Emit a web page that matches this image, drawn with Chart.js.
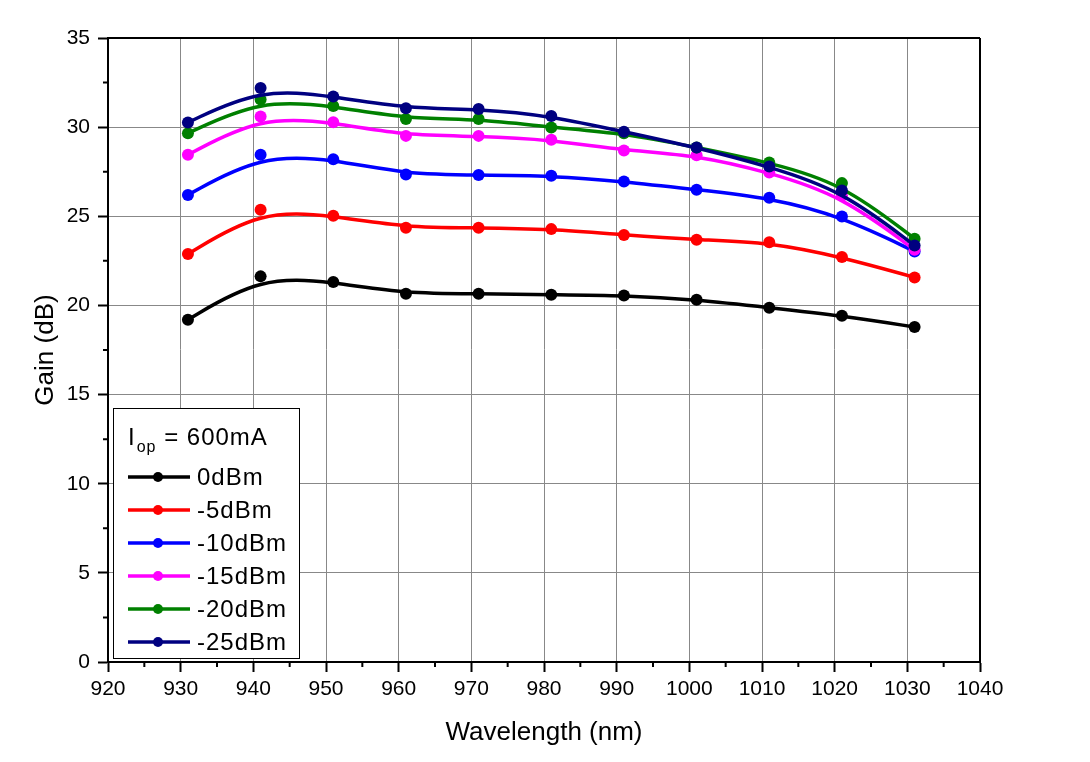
<!DOCTYPE html>
<html>
<head>
<meta charset="utf-8">
<title>Gain vs Wavelength</title>
<script src="https://cdn.jsdelivr.net/npm/chart.js@4.4.1/dist/chart.umd.min.js"></script>
<style>
  html, body { margin: 0; padding: 0; background: #fff; }
  #wrap { width: 1090px; height: 762px; position: relative; }
</style>
</head>
<body>
<div id="wrap"><canvas id="gainChart"></canvas></div>
<script>
// 数据：横轴波长 (nm)，各输入功率下的增益 (dB)
const wavelengths = [931, 941, 951, 961, 971, 981, 991, 1001, 1011, 1021, 1031];
const gain0dBm   = [19.20, 21.63, 21.31, 20.66, 20.66, 20.60, 20.56, 20.32, 19.87, 19.42, 18.79];
const gainM5dBm  = [22.88, 25.36, 25.03, 24.36, 24.36, 24.28, 23.95, 23.68, 23.55, 22.71, 21.57];
const gainM10dBm = [26.20, 28.45, 28.20, 27.35, 27.31, 27.27, 26.95, 26.49, 26.04, 24.99, 23.03];
const gainM15dBm = [28.45, 30.60, 30.28, 29.51, 29.51, 29.29, 28.69, 28.43, 27.46, 26.15, 23.12];
const gainM20dBm = [29.66, 31.55, 31.19, 30.46, 30.46, 29.98, 29.66, 28.86, 28.02, 26.86, 23.74];
const gainM25dBm = [30.26, 32.19, 31.72, 31.06, 31.02, 30.63, 29.74, 28.86, 27.79, 26.45, 23.36];

const seriesNames  = ['0dBm', '-5dBm', '-10dBm', '-15dBm', '-20dBm', '-25dBm'];
const seriesValues = [gain0dBm, gainM5dBm, gainM10dBm, gainM15dBm, gainM20dBm, gainM25dBm];
const seriesColors = ['#000000', '#ff0000', '#0000ff', '#ff00ff', '#008000', '#000080'];

const xTicks = [920, 930, 940, 950, 960, 970, 980, 990, 1000, 1010, 1020, 1030, 1040];
const yTicks = [0, 5, 10, 15, 20, 25, 30, 35];

const FONT = '"Liberation Sans", Arial, sans-serif';

// Origin 风格的 B 样条：端点重复三次，中间点作为控制点
const bsplinePlugin = {
    id: 'bspline',
    beforeDatasetDraw(chart, args) {
        const pts = args.meta.data.map(p => ({ x: p.x, y: p.y }));
        if (pts.length < 2) return;
        const q = [pts[0], pts[0], ...pts, pts[pts.length - 1], pts[pts.length - 1]];
        const ctx = chart.ctx;
        const ds = chart.data.datasets[args.index];
        ctx.save();
        ctx.beginPath();
        for (let i = 0; i + 3 < q.length; i++) {
            const a = q[i], b = q[i + 1], c = q[i + 2], d = q[i + 3];
            const sx = (a.x + 4 * b.x + c.x) / 6, sy = (a.y + 4 * b.y + c.y) / 6;
            const c1x = (2 * b.x + c.x) / 3, c1y = (2 * b.y + c.y) / 3;
            const c2x = (b.x + 2 * c.x) / 3, c2y = (b.y + 2 * c.y) / 3;
            const ex = (b.x + 4 * c.x + d.x) / 6, ey = (b.y + 4 * c.y + d.y) / 6;
            if (i === 0) ctx.moveTo(sx, sy);
            ctx.bezierCurveTo(c1x, c1y, c2x, c2y, ex, ey);
        }
        ctx.strokeStyle = ds.borderColor;
        ctx.lineWidth = 3.5;
        ctx.lineJoin = 'round';
        ctx.lineCap = 'round';
        ctx.stroke();
        ctx.restore();
    }
};

// 上/右边框 + 次刻度
const framePlugin = {
    id: 'frame',
    afterDatasetsDraw(chart) {
        const { ctx, chartArea: a, scales } = chart;
        ctx.save();
        ctx.strokeStyle = '#000';
        ctx.lineWidth = 2;
        ctx.beginPath();
        ctx.moveTo(a.left, a.top); ctx.lineTo(a.right, a.top);
        ctx.moveTo(a.right, a.top); ctx.lineTo(a.right, a.bottom);
        ctx.stroke();
        ctx.beginPath();
        for (let i = 0; i + 1 < xTicks.length; i++) {
            const px = scales.x.getPixelForValue((xTicks[i] + xTicks[i + 1]) / 2);
            ctx.moveTo(px, a.bottom); ctx.lineTo(px, a.bottom + 5);
        }
        for (let i = 0; i + 1 < yTicks.length; i++) {
            const py = scales.y.getPixelForValue((yTicks[i] + yTicks[i + 1]) / 2);
            ctx.moveTo(a.left, py); ctx.lineTo(a.left - 5, py);
        }
        ctx.stroke();
        ctx.restore();
    }
};

// 图例框（左下角）
const legendPlugin = {
    id: 'boxLegend',
    afterDraw(chart) {
        const ctx = chart.ctx;
        const bx = 113, by = 408, bw = 186, bh = 250;
        ctx.save();
        ctx.fillStyle = '#fff';
        ctx.fillRect(bx, by, bw, bh);
        ctx.strokeStyle = '#000';
        ctx.lineWidth = 1;
        ctx.strokeRect(bx + 0.5, by + 0.5, bw, bh);

        ctx.fillStyle = '#000';
        ctx.textBaseline = 'alphabetic';
        ctx.textAlign = 'left';
        ctx.letterSpacing = '1px';
        ctx.font = '24px ' + FONT;
        let x = 128;
        ctx.fillText('I', x, 445);
        x += ctx.measureText('I').width + 1;
        ctx.font = '16px ' + FONT;
        ctx.fillText('op', x, 452);
        x += ctx.measureText('op').width;
        ctx.font = '24px ' + FONT;
        ctx.fillText(' = 600mA', x, 445);

        ctx.textBaseline = 'middle';
        seriesNames.forEach((name, i) => {
            const cy = 477 + i * 33;
            ctx.strokeStyle = seriesColors[i];
            ctx.lineWidth = 3.5;
            ctx.beginPath();
            ctx.moveTo(128, cy); ctx.lineTo(190, cy);
            ctx.stroke();
            ctx.fillStyle = seriesColors[i];
            ctx.beginPath();
            ctx.arc(158, cy, 5, 0, Math.PI * 2);
            ctx.fill();
            ctx.fillStyle = '#000';
            ctx.fillText(name, 197, cy + 1);
        });
        ctx.restore();
    }
};

const datasets = seriesNames.map((name, i) => ({
    label: name,
    data: wavelengths.map((w, j) => ({ x: w, y: seriesValues[i][j] })),
    borderColor: seriesColors[i],
    backgroundColor: seriesColors[i],
    pointBackgroundColor: seriesColors[i],
    pointBorderWidth: 0,
    pointRadius: 6,
    pointHoverRadius: 6,
    showLine: false,
    order: seriesNames.length - i
}));

new Chart(document.getElementById('gainChart'), {
    type: 'line',
    data: { datasets },
    options: {
        responsive: true,
        maintainAspectRatio: false,
        animation: false,
        events: [],
        layout: { padding: { top: 38, right: 110, left: 0, bottom: 0 } },
        plugins: { legend: { display: false }, tooltip: { enabled: false } },
        scales: {
            x: {
                type: 'linear',
                min: 920, max: 1040,
                afterBuildTicks: s => { s.ticks = xTicks.map(v => ({ value: v })); },
                afterFit: s => { s.height = 100; },
                ticks: { color: '#000', font: { family: FONT, size: 21 }, padding: 5, maxRotation: 0, callback: v => String(v) },
                grid: { color: '#888', lineWidth: 1, tickLength: 10, tickColor: '#000', tickWidth: 2 },
                border: { color: '#000', width: 2 },
                title: { display: true, text: 'Wavelength (nm)', color: '#000', font: { family: FONT, size: 26 }, padding: { top: 0, bottom: 14 } }
            },
            y: {
                min: 0, max: 35,
                afterBuildTicks: s => { s.ticks = yTicks.map(v => ({ value: v })); },
                afterFit: s => { s.width = 108; },
                ticks: { color: '#000', font: { family: FONT, size: 21 }, padding: 8, callback: v => String(v) },
                grid: { color: '#888', lineWidth: 1, tickLength: 10, tickColor: '#000', tickWidth: 2 },
                border: { color: '#000', width: 2 },
                title: { display: true, text: 'Gain (dB)', color: '#000', font: { family: FONT, size: 26 }, padding: { top: 30, bottom: 0 } }
            }
        }
    },
    plugins: [bsplinePlugin, framePlugin, legendPlugin]
});
</script>
</body>
</html>
